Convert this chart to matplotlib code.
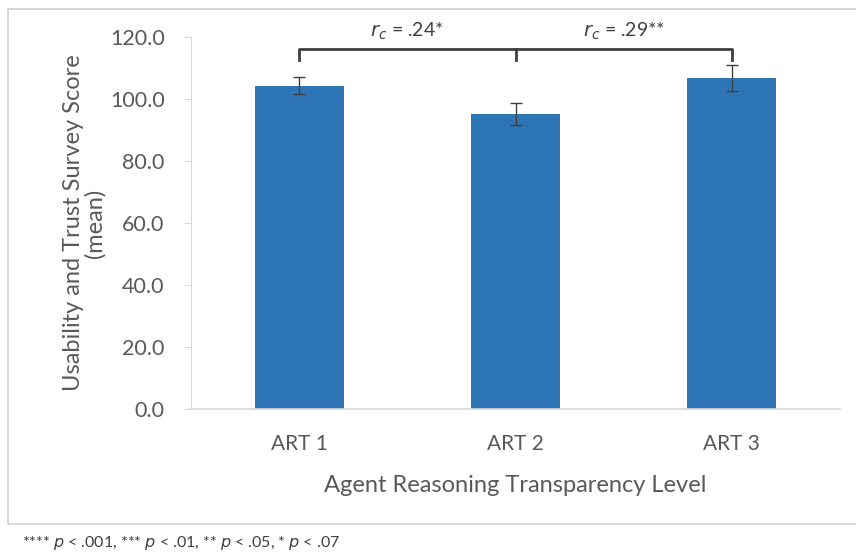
import matplotlib.pyplot as plt
from matplotlib.patches import Rectangle

plt.rcParams['font.family'] = ['Lato', 'DejaVu Sans']

levels = ['ART 1', 'ART 2', 'ART 3']
means = [104.3, 95.2, 106.8]
errors = [2.8, 3.6, 4.2]
yticks = [0, 20, 40, 60, 80, 100, 120]
bracket_y = 116.2
bracket_drop = 3.6
labels = [r'$r_c$ = .24*', r'$r_c$ = .29**']

text_gray = '#595959'
bar_blue = '#2e75b6'

fig = plt.figure(figsize=(8.56, 5.53), dpi=100)
# outer chart frame
fig.patches.append(Rectangle((8 / 856, 1 - 524 / 553), 860 / 856, (524 - 9) / 553,
                             transform=fig.transFigure, fill=False,
                             edgecolor='#d0d0d0', linewidth=1.2))

ax = fig.add_axes([191 / 856, 1 - 409 / 553, (840 - 191) / 856, (409 - 37) / 553])
x = list(range(len(levels)))
ax.bar(x, means, width=0.41, color=bar_blue, zorder=2)
ax.errorbar(x, means, yerr=errors, fmt='none', ecolor='#404040',
            elinewidth=1, capsize=4, capthick=1, zorder=3)

ax.set_xlim(-0.5, 2.5)
ax.set_ylim(0, 120)
ax.set_yticks(yticks)
ax.set_yticklabels([f'{v:.1f}' for v in yticks])
ax.set_xticks(x)
ax.set_xticklabels(levels)
ax.tick_params(axis='y', colors='#d9d9d9', labelcolor=text_gray, labelsize=15.5,
               length=5, direction='out', pad=14)
ax.tick_params(axis='x', length=0, labelcolor=text_gray, labelsize=15, pad=18)
for side in ['top', 'right']:
    ax.spines[side].set_visible(False)
ax.spines['left'].set_color('#d9d9d9')
ax.spines['bottom'].set_color('#d9d9d9')
ax.spines['bottom'].set_linewidth(1.2)

ax.set_ylabel('Usability and Trust Survey Score\n(mean)', color=text_gray,
              fontsize=17, labelpad=3, linespacing=1.0)
ax.set_xlabel('Agent Reasoning Transparency Level', color=text_gray,
              fontsize=17, labelpad=15)

# significance bracket across the three levels
ax.plot([x[0], x[0], x[2], x[2]],
        [bracket_y - bracket_drop, bracket_y, bracket_y, bracket_y - bracket_drop],
        color='#404040', linewidth=2, clip_on=False, zorder=4)
ax.plot([x[1], x[1]], [bracket_y, bracket_y - bracket_drop],
        color='#404040', linewidth=2, clip_on=False, zorder=4)
ax.text((x[0] + x[1]) / 2, bracket_y + 2.3, labels[0], ha='center', va='bottom',
        fontsize=14, color='#404040')
ax.text((x[1] + x[2]) / 2, bracket_y + 2.3, labels[1], ha='center', va='bottom',
        fontsize=14, color='#404040')

fig.text(22 / 856, 1 - 543 / 553,
         r'**** $p$ < .001, *** $p$ < .01, ** $p$ < .05, * $p$ < .07',
         ha='left', va='center', fontsize=11.5, color='#404040')

fig.savefig('out.png', dpi=100)
